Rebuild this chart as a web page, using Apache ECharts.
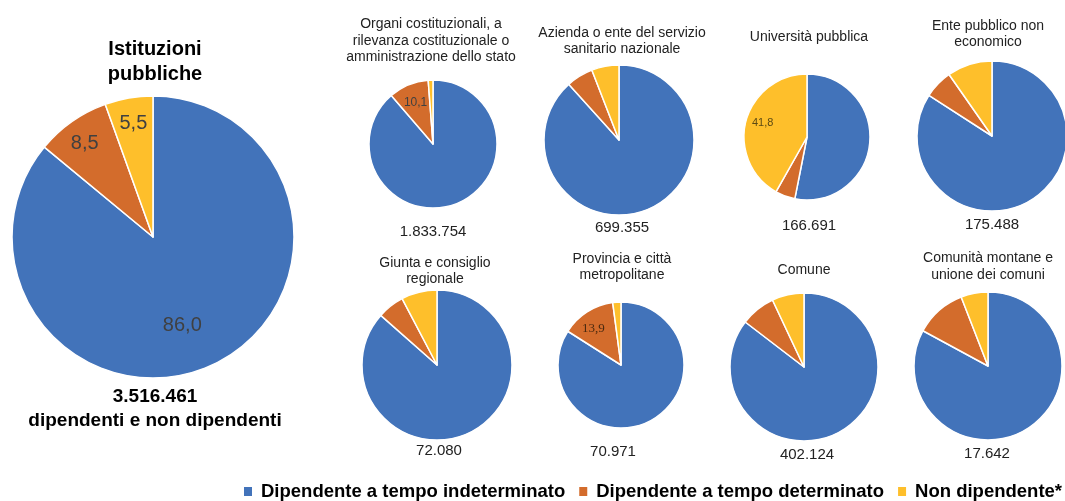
<!DOCTYPE html>
<html>
<head>
<meta charset="utf-8">
<script src="https://cdn.jsdelivr.net/npm/echarts@6/dist/echarts.min.js"></script>
<style>
html, body { margin: 0; padding: 0; background: #fff; }
#main { width: 1065px; height: 501px; }
</style>
</head>
<body>
<div id="main"></div>
<script>
// dati (percentuali) per tipologia di istituzione
const categorie = [
  'Istituzioni\npubbliche',
  'Organi costituzionali, a\nrilevanza costituzionale o\namministrazione dello stato',
  'Azienda o ente del servizio\nsanitario nazionale',
  'Università pubblica',
  'Ente pubblico non\neconomico',
  'Giunta e consiglio\nregionale',
  'Provincia e città\nmetropolitane',
  'Comune',
  'Comunità montane e\nunione dei comuni'
]
const legenda = ['Dipendente a tempo indeterminato', 'Dipendente a tempo determinato', 'Non dipendente*']
const indeterminato = [86.0, 88.7, 88.3, 53.1, 84.1, 86.5, 84.0, 85.4, 82.9]
const determinato   = [8.5, 10.1, 5.8, 5.1, 6.2, 5.8, 13.9, 7.6, 11.2]
const nonDipendente = [5.5, 1.2, 5.9, 41.8, 9.7, 7.7, 2.1, 7.0, 5.9]
const totali = ['3.516.461\ndipendenti e non dipendenti', '1.833.754', '699.355', '166.691', '175.488',
                '72.080', '70.971', '402.124', '17.642']

// layout
const centri = [[153, 237], [433, 144], [619, 140], [807, 137], [992, 136],
                [437, 365], [621, 365], [804, 367], [988, 366]]
const raggi = [141, 64, 75, 63, 75, 75, 63, 74, 74]
const titoliPos = [[155, 61.5], [431, 40.7], [622, 41.3], [809, 37.5], [988, 34],
                   [435, 271], [622, 267], [804, 270], [988, 266.7]]
const totaliPos = [[155, 409], [433, 232], [622, 228], [809, 226], [992, 225],
                   [439, 451], [613, 452], [807, 455], [987, 454]]
const colori = ['#4273BA', '#D36C2C', '#FEBF2B']

// etichette visibili: [torta, fetta, offset, stile]
const etichette = [
  [0, 0, [-2, 22], { fontSize: 20, color: '#404040' }],
  [0, 1, [-26, -33], { fontSize: 20, color: '#404040' }],
  [0, 2, [-7, -41], { fontSize: 20, color: '#404040' }],
  [1, 1, [-4, -9], { fontSize: 12, color: '#404040' }],
  [3, 2, [-11, -5], { fontSize: 11, color: '#5c4a14' }],
  [6, 1, [-9, -7], { fontSize: 13, color: '#4a2a10', fontFamily: 'Liberation Serif' }]
]

function fmt(v) {
  return v.toFixed(1).replace('.', ',')
}

let series = []
for (let i = 0; i < categorie.length; i++) {
  let valori = [indeterminato[i], determinato[i], nonDipendente[i]]
  let data = valori.map((v, j) => {
    let item = {
      name: legenda[j],
      value: v,
      itemStyle: { color: colori[j] },
      label: { show: false }
    }
    etichette.forEach(e => {
      if (e[0] === i && e[1] === j) {
        item.label = Object.assign({
          show: true,
          position: 'inside',
          offset: e[2],
          fontFamily: 'Liberation Sans',
          formatter: fmt(v)
        }, e[3])
      }
    })
    return item
  })
  series.push({
    type: 'pie',
    center: centri[i],
    radius: [0, raggi[i]],
    startAngle: 90,
    clockwise: true,
    avoidLabelOverlap: false,
    silent: true,
    labelLine: { show: false },
    itemStyle: { borderColor: '#fff', borderWidth: 1.5 },
    emphasis: { disabled: true },
    data: data
  })
}

let testi = []
for (let i = 0; i < categorie.length; i++) {
  let big = i === 0
  testi.push({
    type: 'text',
    x: titoliPos[i][0],
    y: titoliPos[i][1],
    style: {
      text: categorie[i],
      align: 'center',
      verticalAlign: 'middle',
      fontFamily: 'Liberation Sans',
      fontSize: big ? 20 : 14,
      fontWeight: big ? 'bold' : 'normal',
      lineHeight: big ? 25 : 16.5,
      fill: big ? '#000' : '#222'
    }
  })
  testi.push({
    type: 'text',
    x: totaliPos[i][0],
    y: totaliPos[i][1],
    style: {
      text: totali[i],
      align: 'center',
      verticalAlign: 'middle',
      fontFamily: 'Liberation Sans',
      fontSize: big ? 19 : 15,
      fontWeight: big ? 'bold' : 'normal',
      lineHeight: 24,
      fill: big ? '#000' : '#222'
    }
  })
}

let chart = echarts.init(document.getElementById('main'))
chart.setOption({
  animation: false,
  backgroundColor: '#fff',
  legend: {
    data: legenda,
    left: 242,
    top: 482,
    padding: 0,
    icon: 'rect',
    itemWidth: 10,
    itemHeight: 11,
    itemGap: 12,
    selectedMode: false,
    textStyle: {
      fontFamily: 'Liberation Sans',
      fontSize: 18.5,
      fontWeight: 'bold',
      color: '#000',
      padding: [0, 0, 0, 3]
    }
  },
  graphic: testi,
  series: series
})
</script>
</body>
</html>
